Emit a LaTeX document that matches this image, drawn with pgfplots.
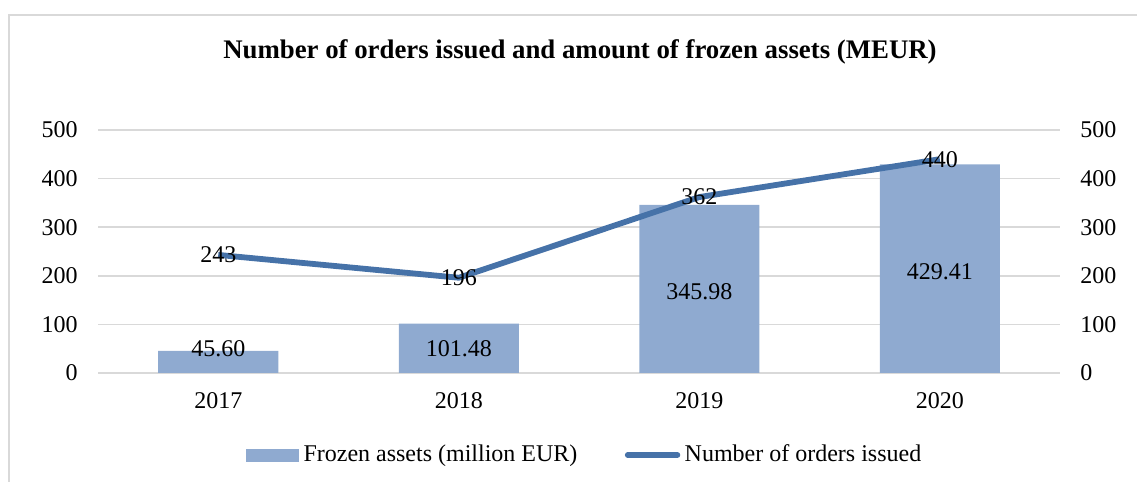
\documentclass[border=0pt]{standalone}
\usepackage{pgfplots}
\pgfplotsset{compat=1.18}
\usepackage{fontspec}
\setmainfont{Liberation Serif}
\definecolor{barc}{RGB}{143,170,208}
\definecolor{linec}{RGB}{70,114,168}
\definecolor{gridc}{RGB}{217,217,217}
\newcommand{\txt}{\fontsize{12bp}{14bp}\selectfont}

\pgfplotsset{
  base/.style={
    scale only axis, width=481bp, height=121.5bp,
    at={(49bp,54.5bp)}, anchor=south west,
    xmin=-0.5, xmax=3.5, ymin=0, ymax=500,
    ytick={0,100,200,300,400,500}, xtick={0,1,2,3},
    axis line style={draw=none}, tick style={draw=none}, major tick length=0pt,
    tick label style={font=\txt, text=black},
    /pgf/number format/assume math mode=true,
    clip=false,
    every node near coord/.append style={anchor=center, font=\txt, text=black, inner sep=0pt},
  }}

\begin{document}
\begin{tikzpicture}
\useasboundingbox (0bp,0bp) rectangle (568.5bp,241bp);
\draw[gridc, line width=0.75bp] (4.5bp,0bp) -- (4.5bp,233.5bp) -- (568.5bp,233.5bp);
\node[font=\bfseries\fontsize{13.4bp}{16bp}\selectfont] at (290bp,215bp)
  {Number of orders issued and amount of frozen assets (MEUR)};

\begin{axis}[base,
  ymajorgrids, grid style={gridc, line width=0.75bp},
  xticklabels={2017,2018,2019,2020},
  xticklabel style={inner sep=0pt, anchor=north, yshift=-9.5bp},
  yticklabel style={inner sep=0pt, anchor=east, xshift=-10bp}]
\addplot[ybar, bar width=60bp, fill=barc, draw=none]
  coordinates {(0,45.60)(1,101.48)(2,345.98)(3,429.41)};
\addplot[draw=none, mark=none, nodes near coords, point meta=explicit symbolic]
  table[meta=lab] {
x y lab
0 51 45.60
1 51 101.48
2 168 345.98
3 208 429.41
};
\end{axis}

\begin{axis}[base,
  xticklabels={},
  yticklabel pos=right,
  yticklabel style={inner sep=0pt, anchor=west, xshift=10bp},
  legend columns=2,
  legend style={draw=none, fill=none, font=\txt, at={(0.5,-0.3374)}, anchor=center,
    xshift=3.5bp, /tikz/every even column/.append style={column sep=21.5bp},
    nodes={inner sep=2.2bp}}]
\addlegendimage{legend image code/.code={\fill[barc] (0bp,-3bp) rectangle (26bp,3bp);}}
\addlegendentry{Frozen assets (million EUR)}
\addplot[linec, line width=2.9bp, mark=none, nodes near coords, point meta=explicit symbolic,
  legend image code/.code={\draw[linec, line width=2.9bp, line cap=round] (1.4bp,0bp) -- (26.2bp,0bp);}]
  table[meta=lab] {
x y lab
0 243 243
1 196 196
2 362 362
3 440 440
};
\addlegendentry{Number of orders issued}
\end{axis}
\end{tikzpicture}
\end{document}
